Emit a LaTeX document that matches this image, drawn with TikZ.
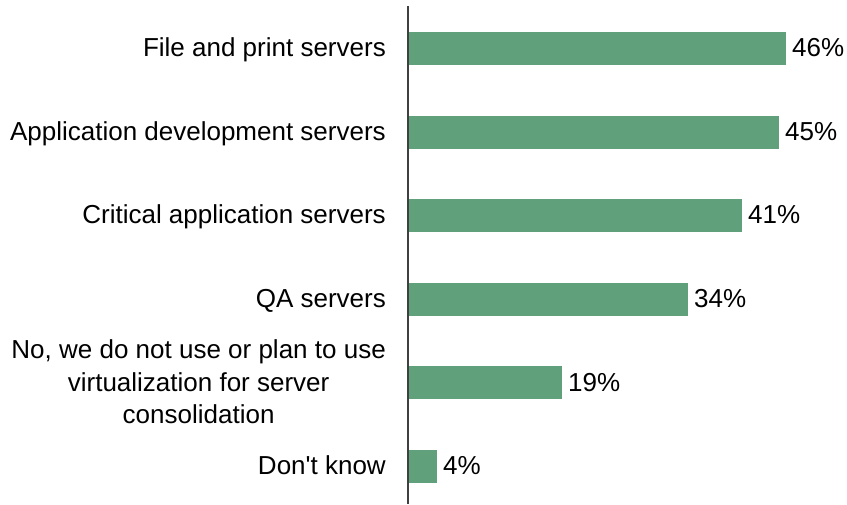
\documentclass[tikz,border=0pt]{standalone}
\usepackage{fontspec}
\setmainfont{Liberation Sans}[Ligatures=TeXOff]
\definecolor{bargreen}{RGB}{96,161,124}
\definecolor{axisgray}{RGB}{64,64,64}
\begin{document}
\begin{tikzpicture}[x=1pt,y=-1pt,
  bar/.style={fill=bargreen,draw=none},
  cat/.style={anchor=base east,inner sep=0pt,font=\fontsize{26}{32.5}\selectfont},
  catm/.style={anchor=east,inner sep=0pt,align=center,font=\fontsize{26}{32.5}\selectfont},
  pct/.style={anchor=base west,inner sep=0pt,font=\fontsize{26}{32.5}\selectfont}]
\useasboundingbox (0,0) rectangle (847,504);
% bars
\foreach \i/\e/\p in {0/786/46,1/779/45,2/742/41,3/688/34,4/562/19,5/437/4}{
  \pgfmathsetmacro{\c}{48.5+83.6*\i}
  \fill[bar] (408,\c-16.5) rectangle (\e,\c+16.5);
  \node[pct] (p\i) at (\e+6,\c+8.2) {\p\%};
}
% axis
\coordinate (axtop) at (408,6);
\coordinate (axbot) at (408,504);
\draw[axisgray,line width=1.3pt] (axtop) -- (axbot);
% labels
\node[cat] (l0) at (386,56.5) {File and print servers};
\node[cat] (l1) at (386,140.1) {Application development servers};
\node[cat] (l2) at (386,223.7) {Critical application servers};
\node[cat] (l3) at (386,307.3) {QA servers};
\node[catm] (l4) at (386,382) {No, we do not use or plan to use\\virtualization for server\\consolidation};
\node[cat] (l5) at (386,474.5) {Don't know};
\end{tikzpicture}
\end{document}
